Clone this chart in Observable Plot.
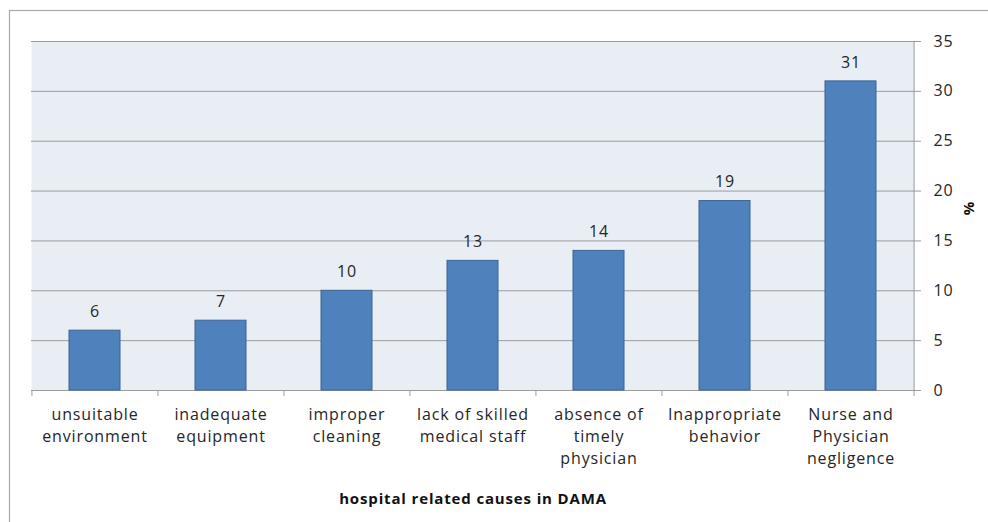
<!DOCTYPE html>
<html>
<head>
<meta charset="utf-8">
<script src="https://cdn.jsdelivr.net/npm/d3@7"></script>
<script src="https://cdn.jsdelivr.net/npm/@observablehq/plot@0.6"></script>
<style>
  html, body { margin: 0; padding: 0; background: #fff; }
  #chart svg { display: block; }
</style>
</head>
<body>
<div id="chart"></div>
<script>
const categories = [
  "unsuitable\nenvironment",
  "inadequate\nequipment",
  "improper\ncleaning",
  "lack of skilled\nmedical staff",
  "absence of\ntimely\nphysician",
  "Inappropriate\nbehavior",
  "Nurse and\nPhysician\nnegligence"
];
const values = [6, 7, 10, 13, 14, 19, 31];
const yTicks = [0, 5, 10, 15, 20, 25, 30, 35];
const xTitle = "hospital related causes in DAMA";
const yTitle = "%";

const data = categories.map((c, i) => ({cat: c, value: values[i]}));

const W = 988, H = 522;
const mL = 31, mR = 74, mT = 41, mB = 132;
const step = (W - mL - mR) / categories.length;
const font = "'Open Sans', sans-serif";
const fs = 16;

const plot = Plot.plot({
  width: W,
  height: H,
  marginLeft: mL,
  marginRight: mR,
  marginTop: mT,
  marginBottom: mB,
  style: {fontFamily: font, fontSize: fs + "px", letterSpacing: "0.85px", color: "#262626", background: "transparent"},
  x: {domain: categories, axis: null, paddingInner: 0.595, paddingOuter: 0.2975},
  y: {domain: [0, 35], axis: null},
  marks: [
    Plot.frame({fill: "#e9edf4", stroke: null}),
    Plot.ruleY(yTicks, {stroke: "#9c9c9c", strokeWidth: 1, insetRight: -7}),
    Plot.barY(data, {x: "cat", y: "value", fill: "#4f81bd", stroke: "#3b6594", strokeWidth: 1}),
    Plot.ruleX(categories, {x: d => d, y1: -0.6, y2: 0, dx: -step / 2, stroke: "#9c9c9c"}),
    Plot.ruleX([categories[categories.length - 1]], {x: d => d, y1: -0.6, y2: 35, dx: step / 2, stroke: "#9c9c9c"}),
    Plot.text(data, {x: "cat", y: "value", text: d => String(d.value), dy: -19, fill: "#262626", fontSize: fs}),
    Plot.text(data, {x: "cat", y: 0, text: "cat", lineAnchor: "top", dy: 14, lineHeight: 1.375, fill: "#262626", fontSize: fs}),
    Plot.axisY(yTicks, {anchor: "right", tickSize: 0, tickPadding: 19, label: null, fill: "#262626", fontSize: fs, textAnchor: "start"}),
    Plot.text([xTitle], {frameAnchor: "bottom", dy: 113, text: d => d, fontWeight: "bold", fill: "#111", fontSize: 15}),
    Plot.text([yTitle], {frameAnchor: "right", dx: 54, rotate: 90, text: d => d, fontWeight: "bold", fill: "#111", fontSize: 15})
  ]
});

// outer chart border (only left and top edges fall inside the picture)
const svg = d3.select(plot);
svg.insert("rect", ":first-child")
  .attr("x", 9.5).attr("y", 10.5)
  .attr("width", W + 20).attr("height", H + 20)
  .attr("fill", "#fff").attr("stroke", "#a9a9a9").attr("stroke-width", 1.2);

document.getElementById("chart").appendChild(plot);
</script>
</body>
</html>
